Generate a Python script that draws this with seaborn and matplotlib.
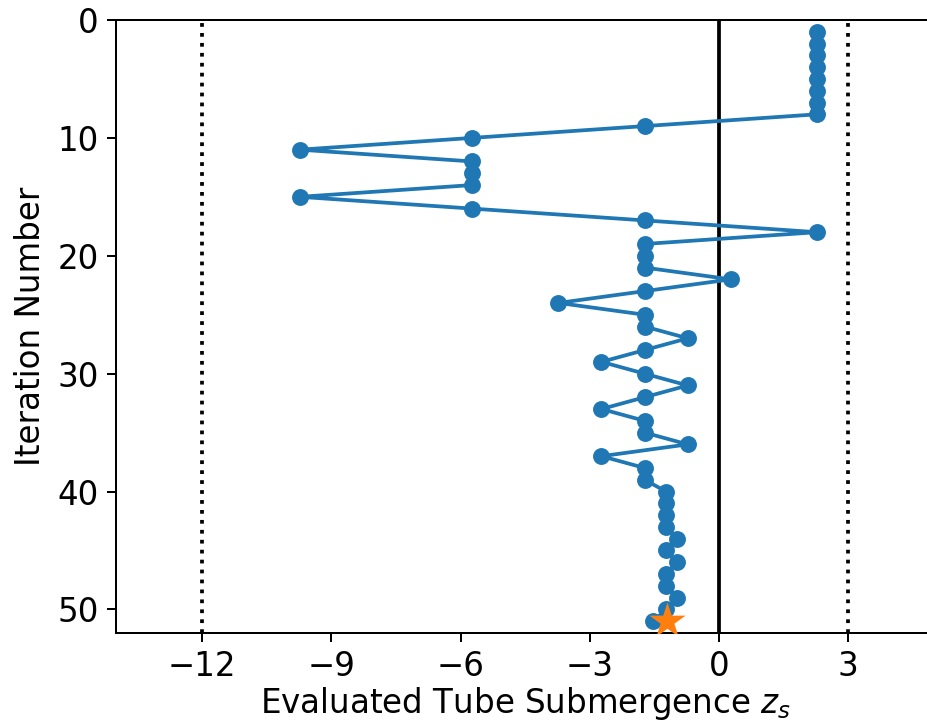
import matplotlib
matplotlib.use("Agg")
import matplotlib.pyplot as plt
import seaborn as sns
import pandas as pd

# Evaluated tube submergence per iteration of the search
iterations = list(range(1, 52))
submergence = [
    2.27, 2.27, 2.27, 2.27, 2.27, 2.27, 2.27, 2.27,
    -1.73, -5.73, -9.73, -5.73, -5.73, -5.73, -9.73, -5.73,
    -1.73, 2.27, -1.73, -1.73, -1.73, 0.27, -1.73, -3.73,
    -1.73, -1.73, -0.73, -1.73, -2.73, -1.73, -0.73, -1.73,
    -2.73, -1.73, -1.73, -0.73, -2.73, -1.73, -1.73,
    -1.23, -1.23, -1.23, -1.23, -0.98, -1.23, -0.98, -1.23,
    -1.23, -0.98, -1.23, -1.53,
]
best_iteration = [51]
best_submergence = [-1.2]

lower_bound = -12
upper_bound = 3
xticks = [-12, -9, -6, -3, 0, 3]
yticks = [0, 10, 20, 30, 40, 50]

df = pd.DataFrame({"iteration": iterations, "zs": submergence})
best = pd.DataFrame({"iteration": best_iteration, "zs": best_submergence})

plt.rcParams["font.size"] = 13

fig = plt.figure(figsize=(927 / 180, 725 / 180), dpi=180)
ax = fig.add_axes([116 / 927, 92 / 725, (934.5 - 116) / 927, 613 / 725])

ax.axvline(lower_bound, color="black", linestyle=":", linewidth=1.5, zorder=1)
ax.axvline(upper_bound, color="black", linestyle=":", linewidth=1.5, zorder=1)
ax.axvline(0, color="black", linestyle="-", linewidth=1.5, zorder=1)

sns.lineplot(data=df, x="zs", y="iteration", sort=False, estimator=None,
             color="C0", marker="o", markersize=6, markeredgecolor="C0",
             linewidth=1.5, ax=ax, zorder=3)
sns.scatterplot(data=best, x="zs", y="iteration", marker="*", s=230,
                color="C1", edgecolor="C1", linewidth=0, ax=ax, zorder=4)

ax.set_xlim(-14, 5)
ax.set_ylim(52, 0)
ax.set_xticks(xticks)
ax.set_yticks(yticks)
ax.tick_params(labelsize=13)
ax.set_xlabel("Evaluated Tube Submergence $z_s$", fontsize=13, labelpad=0.5)
ax.set_ylabel("Iteration Number", fontsize=13)

fig.savefig("out.png", dpi=180)
